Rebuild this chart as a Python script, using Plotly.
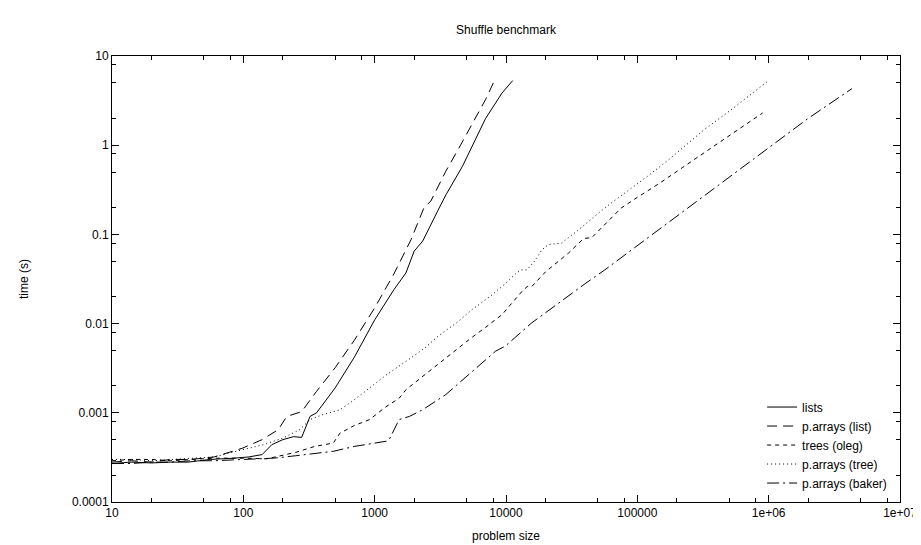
import plotly.graph_objects as go

# values (log-log)
lists_x = [10, 14, 20, 28, 38, 56, 85, 110, 139, 165, 200, 241, 278, 322, 361, 500,
           700, 1000, 1400, 1730, 2000, 2320, 3100, 3500, 4660, 7000, 9330, 11250]
lists_y = [0.00027, 0.00028, 0.000274, 0.00028, 0.00028, 0.0003, 0.00031, 0.00032, 0.00034, 0.00044, 0.0005, 0.00054, 0.00053, 0.00091, 0.001, 0.0019,
           0.0042, 0.011, 0.024, 0.037, 0.065, 0.084, 0.198, 0.28, 0.58, 2.0, 3.85, 5.3]

plist_x = [10, 14, 20, 28, 40, 60, 98, 139, 185, 214, 278, 361, 500, 700, 1000, 1400,
           1890, 2370, 2680, 3480, 4520, 6980, 8070]
plist_y = [0.00028, 0.00029, 0.00028, 0.0003, 0.0003, 0.00032, 0.0004, 0.0005, 0.00065, 0.00091, 0.00103, 0.00174, 0.0032, 0.0065, 0.015, 0.036,
           0.087, 0.198, 0.237, 0.51, 1.01, 3.24, 5.1]

oleg_x = [10, 14, 20, 28, 40, 60, 100, 151, 250, 350, 484, 543, 700, 916, 1200, 1540, 1735,
          2500, 3500, 5220, 7000, 9330, 13250, 14500, 15700, 20000, 30000, 39000, 45000,
          60000, 75500, 100000, 150000, 220000, 322000, 500000, 700000, 900000]
oleg_y = [0.00029, 0.0003, 0.0003, 0.00029, 0.0003, 0.00031, 0.00031, 0.000305, 0.00036, 0.00042, 0.000458, 0.00059, 0.00072, 0.00084, 0.00115, 0.00146, 0.00182,
          0.0028, 0.0042, 0.0066, 0.0091, 0.0126, 0.023, 0.026, 0.026, 0.038, 0.062, 0.09, 0.092,
          0.14, 0.198, 0.26, 0.38, 0.56, 0.82, 1.27, 1.78, 2.3]

ptree_x = [10, 14, 20, 28, 40, 60, 95, 143, 200, 270, 322, 400, 543, 700, 916, 1200, 1735,
           2400, 3100, 4200, 5540, 7500, 9890, 11780, 13000, 14400, 16500, 18750, 21000, 26500,
           35000, 45000, 56500, 80000, 120000, 180000, 322000, 500000, 700000, 1000000]
ptree_y = [0.0003, 0.0003, 0.00029, 0.0003, 0.00031, 0.00032, 0.00038, 0.00044, 0.00052, 0.00065, 0.00084, 0.00095, 0.00108, 0.0014, 0.0019, 0.0026, 0.00378,
           0.0053, 0.0074, 0.0102, 0.0144, 0.02, 0.028, 0.036, 0.04, 0.04, 0.05, 0.067, 0.077, 0.08,
           0.11, 0.15, 0.198, 0.29, 0.45, 0.72, 1.49, 2.4, 3.5, 5.3]

baker_x = [10, 14, 20, 28, 40, 60, 100, 170, 250, 350, 484, 700, 1000, 1225, 1290, 1535,
           1837, 2315, 3480, 5540, 8320, 9890, 15700, 17700, 25000, 40000, 56500, 100000,
           241000, 500000, 1000000, 2000000, 4300000]
baker_y = [0.00027, 0.00027, 0.00028, 0.00028, 0.00029, 0.00029, 0.0003, 0.00031, 0.00033, 0.00035, 0.00037, 0.00042, 0.00046, 0.00048, 0.0005, 0.00084,
           0.00091, 0.00108, 0.0016, 0.0029, 0.0049, 0.0056, 0.0102, 0.0116, 0.017, 0.028, 0.04, 0.075,
           0.198, 0.44, 0.95, 2.0, 4.3]

names = ["lists", "p.arrays (list)", "trees (oleg)", "p.arrays (tree)", "p.arrays (baker)"]
dashes = ["solid", "10px,6px", "4px,4px", "1px,3px", "12px,4px,2px,4px"]
series = [(lists_x, lists_y), (plist_x, plist_y), (oleg_x, oleg_y), (ptree_x, ptree_y), (baker_x, baker_y)]

x_ticks = [10, 100, 1000, 10000, 100000, 1e6, 1e7]
x_labels = ["10", "100", "1000", "10000", "100000", "1e+06", "1e+07"]
y_ticks = [0.0001, 0.001, 0.01, 0.1, 1, 10]
y_labels = ["0.0001", "0.001", "0.01", "0.1", "1", "10"]
minor_mult = [2, 5, 8]

fig = go.Figure()
for (xs, ys), name, dash in zip(series, names, dashes):
    fig.add_trace(go.Scatter(x=xs, y=ys, mode="lines", name=name,
                             line=dict(color="black", width=1, dash=dash)))

x_minor = [m * t for t in x_ticks[:-1] for m in minor_mult]
y_minor = [m * t for t in y_ticks[:-1] for m in minor_mult]

axis_style = dict(type="log", showline=True, linecolor="black", linewidth=1, mirror="allticks",
                  ticks="inside", ticklen=7, tickcolor="black", showgrid=False, zeroline=False,
                  tickfont=dict(size=12, color="black"))

fig.update_xaxes(**axis_style, range=[1, 7], tickmode="array", tickvals=x_ticks, ticktext=x_labels,
                 minor=dict(tickmode="array", tickvals=x_minor, ticks="inside", ticklen=4, tickcolor="black"),
                 title=dict(text="problem size", font=dict(size=12, color="black"), standoff=12))
fig.update_yaxes(**axis_style, range=[-4, 1], tickmode="array", tickvals=y_ticks, ticktext=y_labels,
                 minor=dict(tickmode="array", tickvals=y_minor, ticks="inside", ticklen=4, tickcolor="black"),
                 title=dict(text="time (s)", font=dict(size=12, color="black"), standoff=40))

fig.update_layout(
    width=921, height=545,
    margin=dict(l=104, r=24, t=48, b=51),
    paper_bgcolor="white", plot_bgcolor="white",
    font=dict(family="Liberation Sans, Arial, sans-serif", size=12, color="black"),
    title=dict(text="Shuffle benchmark", x=0.5, xref="paper", xanchor="center",
               y=1 - 22 / 545, yanchor="middle", font=dict(size=12, color="black")),
    legend=dict(x=0.99, xanchor="right", y=0.01, yanchor="bottom", bgcolor="rgba(0,0,0,0)",
                font=dict(size=12, color="black"), tracegroupgap=0),
)

fig.write_html("out.html")
